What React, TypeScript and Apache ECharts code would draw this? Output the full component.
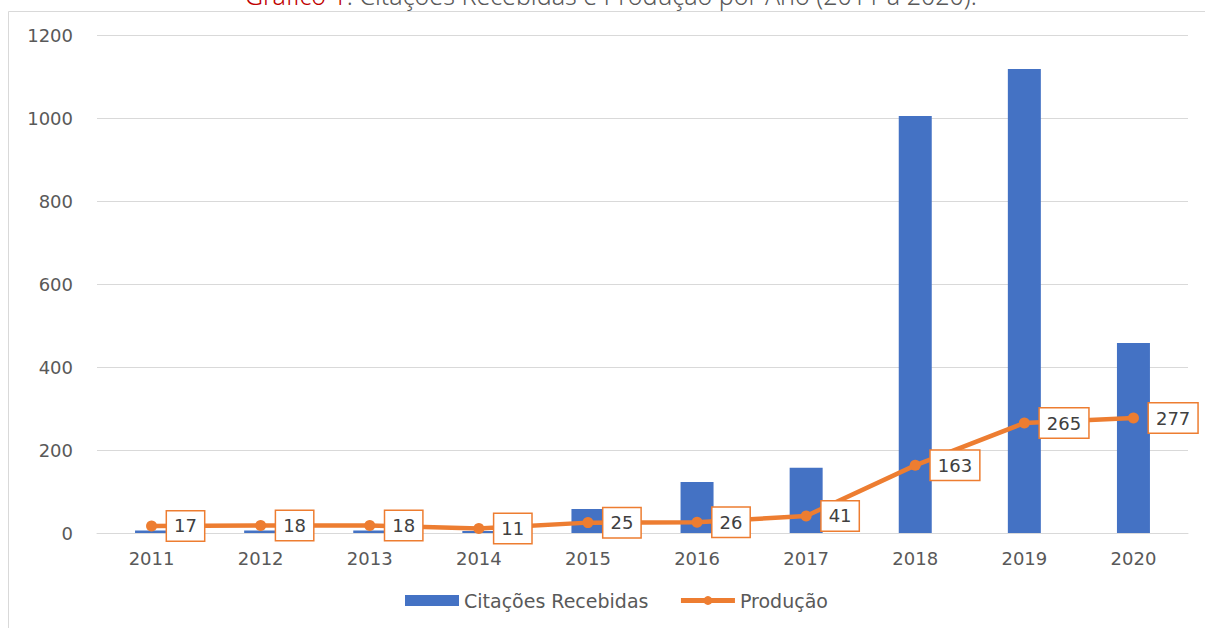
import React, { useEffect, useRef } from "react";
import * as echarts from "echarts";

const years = ["2011", "2012", "2013", "2014", "2015", "2016", "2017", "2018", "2019", "2020"];
const citacoes = [6, 6, 6, 5, 58, 123, 157, 1005, 1118, 458];
const producao = [17, 18, 18, 11, 25, 26, 41, 163, 265, 277];
const titleRed = "Gráfico 1";
const titleRest = ": Citações Recebidas e Produção por Ano (2011 a 2020).";

const FONT = "DejaVu Sans";

export default function App() {
  const ref = useRef<HTMLDivElement>(null);
  useEffect(() => {
    if (!ref.current) return;
    const chart = echarts.init(ref.current, undefined, { renderer: "svg" });
    chart.setOption({
      animation: false,
      backgroundColor: "#ffffff",
      textStyle: { fontFamily: FONT },
      grid: { left: 97, right: 17, top: 35, bottom: 95 },
      graphic: [
        {
          type: "line",
          shape: { x1: 8.5, y1: 11.5, x2: 8.5, y2: 628 },
          style: { stroke: "#d9d9d9", lineWidth: 1 },
        },
        {
          type: "line",
          shape: { x1: 8.5, y1: 11.5, x2: 1205, y2: 11.5 },
          style: { stroke: "#d9d9d9", lineWidth: 1 },
        },
        {
          type: "text",
          x: 245,
          y: -5,
          style: {
            text: "{r|" + titleRed + "}{g|" + titleRest + "}",
            verticalAlign: "middle",
            rich: {
              r: { fill: "#c00000", fontSize: 25, fontFamily: "Noto Sans", fontWeight: 300 },
              g: { fill: "#595959", fontSize: 25, fontFamily: "Noto Sans", fontWeight: 300 },
            },
          },
        },
      ],
      legend: {
        left: 400,
        top: 586,
        itemWidth: 54,
        itemHeight: 11,
        itemGap: 30,
        textStyle: { color: "#595959", fontSize: 19, fontFamily: FONT },
        data: [
          { name: "Citações Recebidas", icon: "rect" },
          { name: "Produção", lineStyle: { width: 5, color: "#ED7D31" } },
        ],
      },
      xAxis: {
        type: "category",
        data: years,
        axisTick: { show: false },
        axisLine: { lineStyle: { color: "#d9d9d9", width: 1 } },
        axisLabel: { color: "#595959", fontSize: 18, margin: 16, fontFamily: FONT },
      },
      yAxis: {
        type: "value",
        min: 0,
        max: 1200,
        interval: 200,
        axisLine: { show: false },
        axisTick: { show: false },
        splitLine: { lineStyle: { color: "#d9d9d9", width: 1 } },
        axisLabel: {
          color: "#595959",
          fontSize: 18,
          margin: 24,
          fontFamily: FONT,
          formatter: (v: number) => String(v),
        },
      },
      series: [
        {
          name: "Citações Recebidas",
          type: "bar",
          data: citacoes,
          barWidth: 33,
          itemStyle: { color: "#4472C4" },
        },
        {
          name: "Produção",
          type: "line",
          data: producao,
          symbol: "circle",
          symbolSize: 11,
          lineStyle: { color: "#ED7D31", width: 4.5 },
          itemStyle: { color: "#ED7D31" },
          label: {
            show: true,
            position: "right",
            distance: 10,
            color: "#404040",
            fontSize: 18,
            fontFamily: FONT,
            backgroundColor: "#ffffff",
            borderColor: "#ED7D31",
            borderWidth: 1.5,
            padding: [6, 7, 5, 7],
          },
          z: 3,
        },
      ],
    });
    return () => chart.dispose();
  }, []);
  return (
    <div
      ref={ref}
      style={{ position: "fixed", left: 0, top: 0, width: 1205, height: 628, background: "#fff" }}
    />
  );
}
